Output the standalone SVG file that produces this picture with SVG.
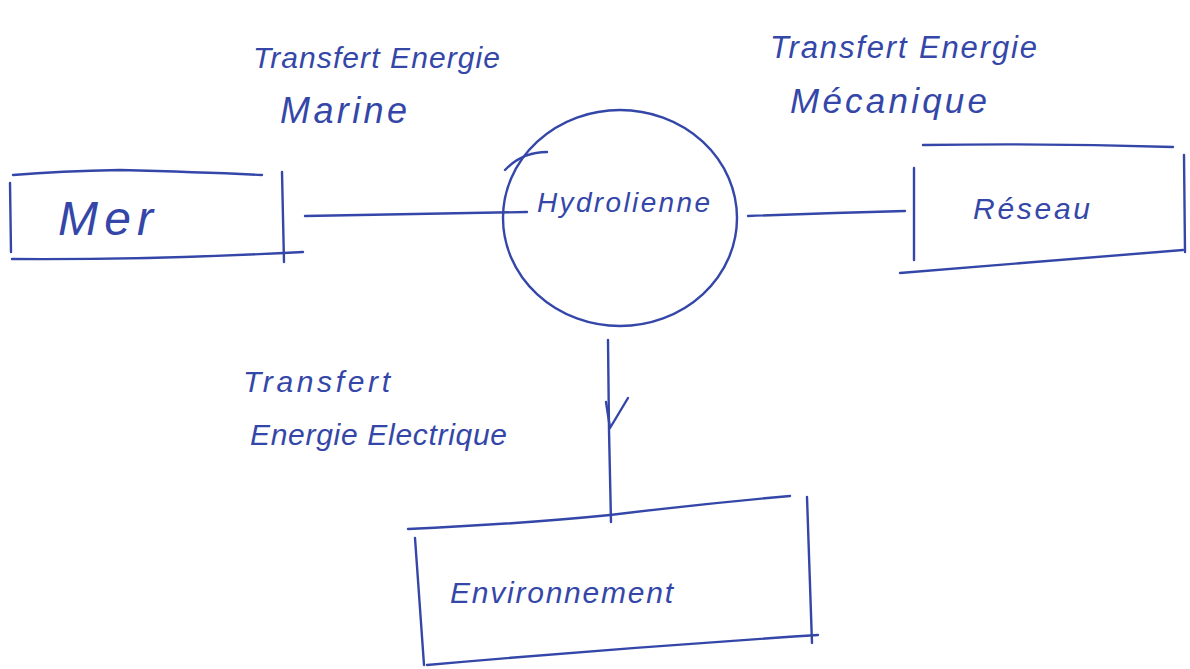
<svg xmlns="http://www.w3.org/2000/svg" width="1190" height="669" viewBox="0 0 1190 669">
<style>
.ink{fill:none;stroke:#3447a8;stroke-width:2.4;stroke-linecap:round;stroke-linejoin:round}
.t{font-family:"Liberation Sans","DejaVu Sans",sans-serif;fill:#3447a8;font-style:italic}
</style>
<rect width="1190" height="669" fill="#ffffff"/>
<g id="connectors">
<path class="ink" d="M305,216 Q410,214 527,212"/>
<path class="ink" d="M748,216 Q830,213 905,211"/>
<path class="ink" d="M608,340 L609,430 L611,522"/>
<path class="ink" d="M606,402 L610,428 L628,398"/>
</g>
<g id="mer">
<path class="ink" d="M13,175 Q60,171 120,170 Q200,172 262,175"/>
<path class="ink" d="M10,183 L11,252"/>
<path class="ink" d="M282,172 L284,262"/>
<path class="ink" d="M12,259 Q150,260 303,252"/>
<text class="t" x="58" y="235" font-size="48" font-style="normal" textLength="95">Mer</text>
</g>
<g id="hydrolienne">
<ellipse class="ink" cx="620" cy="218" rx="117" ry="108"/>
<path class="ink" d="M505,170 Q522,152 547,152"/>
<text class="t" x="537" y="212" font-size="28" textLength="173">Hydrolienne</text>
</g>
<g id="reseau">
<path class="ink" d="M923,145 Q1050,143 1173,147"/>
<path class="ink" d="M914,168 L914,260"/>
<path class="ink" d="M1184,155 L1185,252"/>
<path class="ink" d="M900,273 Q1040,262 1183,250"/>
<text class="t" x="973" y="219" font-size="30" textLength="117">Réseau</text>
</g>
<g id="environnement">
<path class="ink" d="M408,529 Q520,524 610,515 Q700,504 790,496"/>
<path class="ink" d="M415,538 L424,665"/>
<path class="ink" d="M807,497 L812,643"/>
<path class="ink" d="M427,665 Q620,648 818,635"/>
<text class="t" x="450" y="603" font-size="30" textLength="223">Environnement</text>
</g>
<g id="labels">
<text class="t" x="253" y="68" font-size="30" textLength="247">Transfert Energie</text>
<text class="t" x="280" y="123" font-size="36" textLength="127">Marine</text>
<text class="t" x="770" y="58" font-size="31" textLength="267">Transfert Energie</text>
<text class="t" x="790" y="113" font-size="35" textLength="197">Mécanique</text>
<text class="t" x="243" y="392" font-size="30" textLength="147">Transfert</text>
<text class="t" x="250" y="445" font-size="30" textLength="257">Energie Electrique</text>
</g>
</svg>
